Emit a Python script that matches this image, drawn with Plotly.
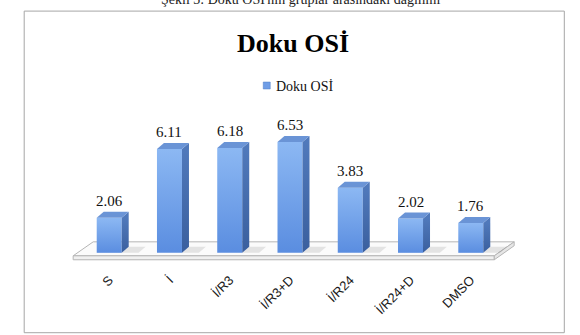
import plotly.graph_objects as go

categories = ["S", "İ", "İ/R3", "İ/R3+D", "İ/R24", "İ/R24+D", "DMSO"]
values = [2.06, 6.11, 6.18, 6.53, 3.83, 2.02, 1.76]
series_name = "Doku OSİ"
chart_title = "Doku OSİ"
caption = "Şekil 3: Doku OSİ'nin gruplar arasındaki dağılımı"

W, H = 580, 335
L, R = 60.8, 518.7
T, B = 100.0, 263.2
XR = [-0.8, 6.8]
YR = [-0.6, 9.0]

def pxx(px):
    return (px - L) / (R - L)

def pyy(py):
    return (B - py) / (B - T)

hw = 0.2075      # half bar width (units)
dx = 0.116       # depth x offset
dy = 0.353       # depth y offset
n = len(categories)

fig = go.Figure()

# floor
fl_back, fl_front, fl_bot = 0.647, -0.176, -0.41
fx = [-0.266, n - 1 + 0.72, n - 1 + 0.39, -0.598, -0.266]
fy = [fl_back, fl_back, fl_front, fl_front, fl_back]
fig.add_trace(go.Scatter(x=fx, y=fy, fill="toself", fillcolor="#fbfbfb",
                         line=dict(color="#b5b5b5", width=1), mode="lines",
                         hoverinfo="skip", showlegend=False))
fig.add_trace(go.Scatter(x=[-0.598, n - 1 + 0.39, n - 1 + 0.39, -0.598, -0.598],
                         y=[fl_front, fl_front, fl_bot, fl_bot, fl_front],
                         fill="toself", fillcolor="#f0f0f0",
                         line=dict(color="#b5b5b5", width=1), mode="lines",
                         hoverinfo="skip", showlegend=False))
fig.add_trace(go.Scatter(x=[n - 1 + 0.39, n - 1 + 0.72, n - 1 + 0.72, n - 1 + 0.39, n - 1 + 0.39],
                         y=[fl_front, fl_back, fl_back - 0.23, fl_bot, fl_front],
                         fill="toself", fillcolor="#e6e6e6",
                         line=dict(color="#b5b5b5", width=1), mode="lines",
                         hoverinfo="skip", showlegend=False))

for i, v in enumerate(values):
    x0, x1 = i - hw, i + hw
    # shadow
    fig.add_trace(go.Scatter(x=[x1, x1 + 0.28, x1 + 0.28 + dx, x1 + dx, x1],
                             y=[0, 0, dy, dy, 0], fill="toself",
                             fillcolor="rgba(120,120,120,0.18)", line=dict(width=0),
                             mode="lines", hoverinfo="skip", showlegend=False))
    # front face
    fig.add_trace(go.Scatter(x=[x0, x1, x1, x0, x0], y=[0, 0, v, v, 0],
                             fill="toself", mode="lines", line=dict(width=0),
                             fillgradient=dict(type="vertical", start=0, stop=v,
                                               colorscale=[[0, "#5a8de0"], [1, "#8cb8f3"]]),
                             name=series_name, hovertemplate="%{text}<extra></extra>",
                             text=[f"{categories[i]}: {v}"] * 5, showlegend=False))
    # side face
    fig.add_trace(go.Scatter(x=[x1, x1 + dx, x1 + dx, x1, x1], y=[0, dy, v + dy, v, 0],
                             fill="toself", mode="lines", line=dict(width=0),
                             fillgradient=dict(type="vertical", start=0, stop=v,
                                               colorscale=[[0, "#3a5f9e"], [1, "#5079bb"]]),
                             hoverinfo="skip", showlegend=False))
    # top face
    fig.add_trace(go.Scatter(x=[x0, x1, x1 + dx, x0 + dx, x0], y=[v, v, v + dy, v + dy, v],
                             fill="toself", mode="lines", line=dict(width=0),
                             fillcolor="#6a94d6", hoverinfo="skip", showlegend=False))
    fig.add_annotation(x=i, y=v + dy, text=f"{v:.2f}", showarrow=False,
                       yanchor="bottom", yshift=1,
                       font=dict(family="Liberation Serif", size=15, color="#111111"))

shapes = [
    dict(type="rect", xref="paper", yref="paper", x0=pxx(24), x1=pxx(564),
         y0=pyy(333), y1=pyy(11), line=dict(color="#a6a6a6", width=1), layer="below"),
    dict(type="rect", xref="paper", yref="paper", x0=pxx(263), x1=pxx(270),
         y0=pyy(89), y1=pyy(82), fillcolor="#6f9de6", line=dict(color="#4f7cc4", width=0.5)),
]

fig.add_annotation(xref="paper", yref="paper", x=pxx(274), y=pyy(86), xanchor="left",
                   yanchor="middle", text=series_name, showarrow=False,
                   font=dict(family="Liberation Serif", size=14, color="#111111"))
fig.add_annotation(xref="paper", yref="paper", x=pxx(300), y=pyy(9), xanchor="center",
                   yanchor="bottom", text=caption, showarrow=False,
                   font=dict(family="Liberation Serif", size=14, color="#222222"))

fig.update_layout(
    width=W, height=H,
    margin=dict(l=L, r=W - R, t=T, b=H - B, pad=0),
    paper_bgcolor="white", plot_bgcolor="white",
    title=dict(text=f"<b>{chart_title}</b>", x=293 / W, xanchor="center",
               y=1 - 43 / H, yanchor="middle",
               font=dict(family="Liberation Serif", size=26, color="#000000")),
    xaxis=dict(range=XR, tickmode="array", tickvals=list(range(n)), ticktext=categories,
               tickangle=-45, showgrid=False, zeroline=False, showline=False, ticks="",
               ticklabelstandoff=6,
               tickfont=dict(family="Liberation Sans", size=13, color="#1a1a1a")),
    yaxis=dict(range=YR, showgrid=False, zeroline=False, showline=False,
               showticklabels=False, ticks=""),
    shapes=shapes,
    showlegend=False,
)

fig.write_html("out.html")
